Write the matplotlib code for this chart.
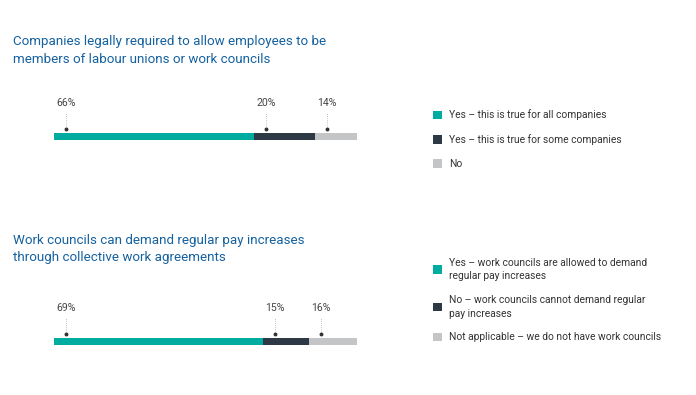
import matplotlib.pyplot as plt

plt.rcParams['font.family'] = ['Roboto', 'DejaVu Sans']

# data
titles = [
    "Companies legally required to allow employees to be\nmembers of labour unions or work councils",
    "Work councils can demand regular pay increases\nthrough collective work agreements",
]
values = [
    [66, 20, 14],
    [69, 15, 16],
]
legend_labels = [
    ["Yes \u2013 this is true for all companies",
     "Yes \u2013 this is true for some companies",
     "No"],
    ["Yes \u2013 work councils are allowed to demand\nregular pay increases",
     "No \u2013 work councils cannot demand regular\npay increases",
     "Not applicable \u2013 we do not have work councils"],
]
colors = ['#00aba0', '#2d3944', '#c3c5c7']

W, H = 696, 395
fig = plt.figure(figsize=(W / 100, H / 100), dpi=100)


def px_axes(x, y, w, h):
    return fig.add_axes([x / W, 1 - (y + h) / H, w / W, h / H])


title_y = [35.5, 234]
bar_bottom = [140, 345]
legend_top = [109.5, 257.5]

for i in range(2):
    fig.text(13 / W, 1 - title_y[i] / H, titles[i], ha='left', va='top',
             fontsize=9.6, color='#1461a0', linespacing=1.42)

    ax = px_axes(54, bar_bottom[i] - 45, 303, 45)
    ax.set_xlim(0, 100)
    ax.set_ylim(0, 45)
    ax.axis('off')

    left = 0
    handles = []
    for v, c, lab in zip(values[i], colors, legend_labels[i]):
        b = ax.barh(3.75, v, left=left, height=7.5, color=c, label=lab)
        handles.append(b)
        xm = left + 4
        ax.plot([xm, xm], [11, 27], ls=(0, (1, 1.5)), lw=0.6, color='#aaaaaa')
        ax.plot(xm, 11, 'o', ms=1.8, color='#333333')
        ax.text(xm, 37, f"{v}%", ha='center', va='center', fontsize=7.6,
                color='#444444')
        left += v

    leg = fig.legend(handles=handles, loc='upper left',
                     bbox_to_anchor=(433 / W, 1 - legend_top[i] / H),
                     frameon=False, fontsize=7.4, borderpad=0, borderaxespad=0,
                     handlelength=0.9, handleheight=0.9, handletextpad=0.7,
                     labelspacing=1.35, labelcolor='#333333')
    for t in leg.get_texts():
        t.set_linespacing(1.45)

fig.savefig('out.png', dpi=100)
